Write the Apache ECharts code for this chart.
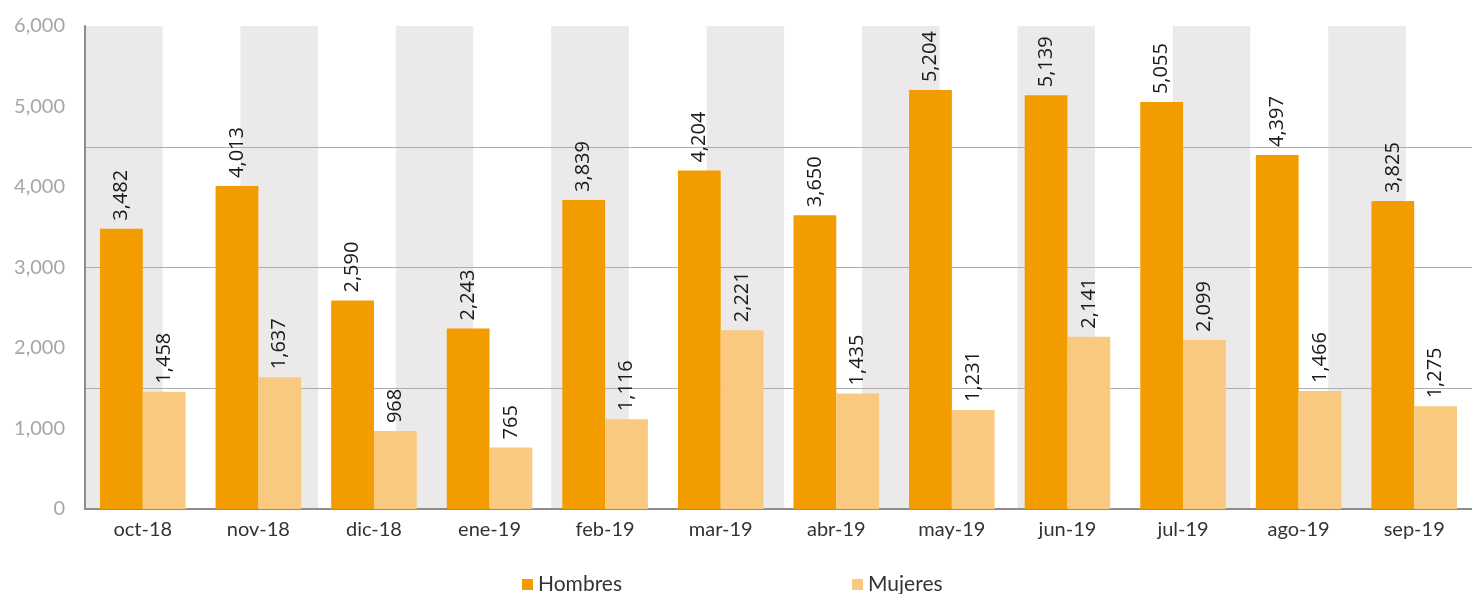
<!DOCTYPE html>
<html>
<head>
<meta charset="utf-8">
<script src="https://cdn.jsdelivr.net/npm/echarts@6/dist/echarts.min.js"></script>
<style>html,body{margin:0;padding:0;background:#fff}#c{width:1472px;height:594px}</style>
</head>
<body>
<div id="c"></div>
<script>
const categories = ['oct-18','nov-18','dic-18','ene-19','feb-19','mar-19','abr-19','may-19','jun-19','jul-19','ago-19','sep-19'];
const hombres = [3482, 4013, 2590, 2243, 3839, 4204, 3650, 5204, 5139, 5055, 4397, 3825];
const mujeres = [1458, 1637, 968, 765, 1116, 2221, 1435, 1231, 2141, 2099, 1466, 1275];
const seriesNames = ['Hombres', 'Mujeres'];

const fmt = v => Number(v).toLocaleString('en-US');
const labelStyle = {
  show: true, position: 'top', rotate: 90, align: 'left', verticalAlign: 'middle',
  distance: 8, color: '#1a1a1a', fontSize: 20, fontFamily: 'Open Sans',
  formatter: p => fmt(p.value)
};

const chart = echarts.init(document.getElementById('c'), null, {renderer: 'canvas'});
chart.setOption({
  animation: false,
  backgroundColor: '#fff',
  grid: {left: 85, right: 0, top: 26, bottom: 85},
  legend: {
    data: seriesNames, left: 517, top: 569, itemWidth: 11, itemHeight: 11, itemGap: 230,
    icon: 'rect', textStyle: {fontSize: 21, color: '#333', fontFamily: 'Lato'}
  },
  xAxis: [
    {
      type: 'category', data: categories,
      axisLine: {show: true, lineStyle: {color: '#8c8c8c', width: 2}},
      axisTick: {show: false},
      axisLabel: {color: '#333', fontSize: 20, fontFamily: 'Lato', margin: 11},
      z: 3
    },
    {
      type: 'value', min: 0, max: 17.85, interval: 1, show: true, z: 0,
      axisLine: {show: false}, axisTick: {show: false}, axisLabel: {show: false},
      splitLine: {show: false},
      splitArea: {show: true, areaStyle: {color: ['#ebe9ea', '#ffffff']}}
    }
  ],
  yAxis: [
    {
      type: 'value', min: 0, max: 6000, interval: 1000,
      axisLine: {show: true, lineStyle: {color: '#8c8c8c', width: 2}},
      axisTick: {show: false},
      axisLabel: {color: '#a6a6a6', fontSize: 20, fontFamily: 'Lato', margin: 20, formatter: v => fmt(v)},
      splitLine: {show: false},
      z: 3
    },
    {
      type: 'value', min: 0, max: 6000, interval: 1500, z: 2,
      axisLine: {show: false}, axisTick: {show: false}, axisLabel: {show: false},
      splitLine: {show: true, showMinLine: false, showMaxLine: false, lineStyle: {color: '#adadad', width: 1}}
    }
  ],
  series: [
    {
      name: seriesNames[0], type: 'bar', data: hombres, xAxisIndex: 0, yAxisIndex: 0,
      barGap: '0%', barCategoryGap: '26%', itemStyle: {color: '#f39c00'}, label: labelStyle, z: 4
    },
    {
      name: seriesNames[1], type: 'bar', data: mujeres, xAxisIndex: 0, yAxisIndex: 0,
      barGap: '0%', barCategoryGap: '26%', itemStyle: {color: '#f8c97e'}, label: labelStyle, z: 4
    }
  ]
});
</script>
</body>
</html>
